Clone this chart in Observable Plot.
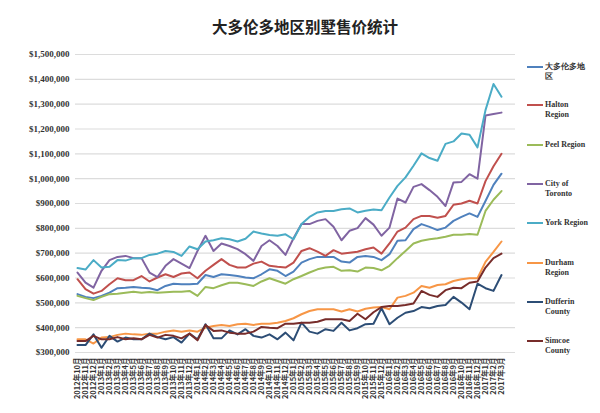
<!DOCTYPE html>
<html><head><meta charset="utf-8">
<script src="https://cdn.jsdelivr.net/npm/d3@7"></script>
<script src="https://cdn.jsdelivr.net/npm/@observablehq/plot@0.6"></script>
<style>
body{margin:0;background:#fff;}
#wrap{position:relative;width:600px;height:413px;overflow:hidden;}
#title{position:absolute;top:15px;left:0;width:610px;text-align:center;font:bold 15.5px "Noto Sans CJK SC",sans-serif;color:#222;}
.lg{position:absolute;left:526px;font:bold 8px "Liberation Serif",serif;color:#333;line-height:10px;}
.lg svg{position:absolute;left:0;top:0;}
.lg span{display:block;margin-left:19px;white-space:nowrap;}
</style></head>
<body><div id="wrap"><div id="title">大多伦多地区别墅售价统计</div></div>
<script>
const months = ["2012年10月","2012年11月","2012年12月",
"2013年1月","2013年2月","2013年3月","2013年4月","2013年5月","2013年6月","2013年7月","2013年8月","2013年9月","2013年10月","2013年11月","2013年12月",
"2014年1月","2014年2月","2014年3月","2014年4月","2014年5月","2014年6月","2014年7月","2014年8月","2014年9月","2014年10月","2014年11月","2014年12月",
"2015年1月","2015年2月","2015年3月","2015年4月","2015年5月","2015年6月","2015年7月","2015年8月","2015年9月","2015年10月","2015年11月","2015年12月",
"2016年1月","2016年2月","2016年3月","2016年4月","2016年5月","2016年6月","2016年7月","2016年8月","2016年9月","2016年10月","2016年11月","2016年12月",
"2017年1月","2017年2月","2017年3月"];
const yTicks = [300,400,500,600,700,800,900,1000,1100,1200,1300,1400,1500];
// values in thousands of dollars
const gta = [535,524,519,528,541,559,561,564,561,559, 551,568,577,575,575,577,612,604,615,612, 608,602,599,615,635,629,608,626,662,676, 685,685,685,666,662,685,689,685,672,696, 750,752,797,817,806,793,803,830,846,860, 846,910,975,1020];
const halton = [595,555,537,548,575,599,591,591,608,586, 602,615,604,618,622,599,629,653,676,653, 642,642,658,666,649,645,642,662,709,720, 706,689,712,698,702,706,716,723,698,739, 787,803,837,850,850,843,850,895,900,911, 900,990,1050,1100];
const peel = [528,519,511,524,535,537,541,545,541,544, 541,543,545,545,548,528,564,559,571,581, 581,575,568,586,599,588,577,595,608,622, 635,642,645,629,631,626,642,640,631,649, 680,709,739,750,756,760,766,774,774,777, 774,870,915,950];
const toronto = [622,581,561,629,672,685,689,680,680,622, 604,649,676,658,640,709,770,709,739,729, 716,696,669,729,752,729,693,760,817,817, 830,837,806,752,790,801,841,815,770,803, 920,904,967,978,954,927,890,985,987,1018, 1000,1254,1260,1266];
const york = [640,634,672,642,645,672,670,680,680,693, 698,709,705,689,727,716,747,752,760,756, 747,758,787,779,773,770,776,756,817,846, 864,870,870,877,880,864,871,876,873,924, 971,1005,1052,1102,1083,1072,1140,1150,1182,1177, 1126,1276,1381,1330];
const durham = [353,353,336,360,362,371,376,373,371,376, 376,384,389,384,389,384,400,407,411,407, 414,416,411,416,416,420,427,438,454,467, 474,474,474,465,474,465,476,481,483,474, 521,528,541,568,561,572,575,588,595,599, 599,665,705,747];
const dufferin = [330,330,373,319,367,344,360,353,353,376, 362,353,362,340,376,353,414,357,357,389, 373,394,367,360,373,353,380,349,420,384, 376,394,387,420,389,398,414,416,478,414, 440,460,467,483,478,487,491,524,501,474, 577,559,548,612];
const simcoe = [346,346,367,353,353,362,353,357,353,371, 360,371,367,357,376,349,411,387,389,380, 376,376,384,403,400,398,416,416,420,420, 424,434,434,434,427,456,434,462,483,487, 487,491,497,548,532,524,551,561,559,581, 586,642,680,698];

const names = ["大多伦多地区","Halton Region","Peel Region","City of Toronto","York Region","Durham Region","Dufferin County","Simcoe County"];
const legendLines = [["大多伦多地","区"],["Halton","Region"],["Peel Region"],["City of","Toronto"],["York Region"],["Durham","Region"],["Dufferin","County"],["Simcoe","County"]];
const colors = ["#4F81BD","#C0504D","#9BBB59","#8064A2","#4BACC6","#F79646","#2C4D75","#772C2A"];
const valuesList = [gta,halton,peel,toronto,york,durham,dufferin,simcoe];

const series = names.map((n,k)=>({name:n,color:colors[k],data:months.map((m,i)=>({month:m,value:valuesList[k][i]}))}));

const fmt = d3.format(",");
const chart = Plot.plot({
  width:600, height:413,
  marginTop:54, marginBottom:61, marginLeft:75, marginRight:85,
  style:{background:"transparent", overflow:"visible"},
  x:{type:"point", domain:months, padding:0.55, align:0.1},
  y:{domain:[300,1500]},
  marks:[
    Plot.ruleY(yTicks,{stroke:"#dcdcdc",strokeWidth:1.2}),
    Plot.axisY({ticks:yTicks, tickSize:0, tickPadding:6, label:null, tickFormat:d=>"$"+fmt(d*1000), fill:"#333"}),
    Plot.axisX({tickSize:0, tickPadding:5, tickRotate:-90, label:null, fill:"#333"}),
    ...series.map(s=>Plot.lineY(s.data,{x:"month",y:"value",stroke:s.color,strokeWidth:2,strokeLinejoin:"round"}))
  ]
});
chart.style.position="absolute"; chart.style.left="0"; chart.style.top="0";
chart.querySelectorAll('[aria-label="x-axis tick label"]').forEach(g=>{
  g.setAttribute("font-size","7.5"); g.setAttribute("font-family","Noto Sans CJK SC"); g.setAttribute("font-weight","bold");
  g.querySelectorAll("text").forEach(t=>{t.style.fontSize="7.5px";});
});
chart.querySelectorAll('[aria-label="y-axis tick label"]').forEach(g=>{
  g.setAttribute("font-size","9"); g.setAttribute("font-family","Liberation Serif"); g.setAttribute("font-weight","bold");
});
const wrap = document.getElementById("wrap");
wrap.insertBefore(chart, wrap.firstChild);

const legendY = [67,105,145,184,223,263,302,341];
names.forEach((n,k)=>{
  const d = document.createElement("div");
  d.className="lg";
  d.style.top=(legendY[k]-5)+"px";
  d.innerHTML = `<svg width="18" height="10"><line x1="1" x2="17" y1="5" y2="5" stroke="${colors[k]}" stroke-width="2"/></svg>` + legendLines[k].map(t=>`<span>${t}</span>`).join("");
  wrap.appendChild(d);
});
</script>
</body></html>
